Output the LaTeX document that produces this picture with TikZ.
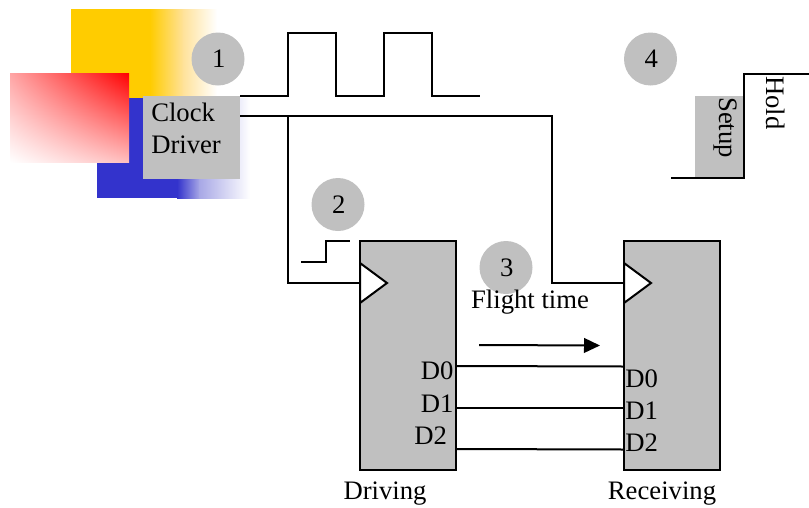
\documentclass[tikz,border=0pt]{standalone}
\usepackage{fontspec}
\setmainfont{Liberation Serif}
\usetikzlibrary{arrows.meta,shadings}
\definecolor{boxgray}{HTML}{C0C0C0}
\definecolor{dkyellow}{HTML}{FFCC00}
\definecolor{dkblue}{HTML}{3333CC}
\definecolor{midyellow}{HTML}{FFE29A}
\definecolor{midblue}{HTML}{A8A8E6}
\definecolor{pinkul}{HTML}{FFA5A5}
\definecolor{pinklr}{HTML}{FFBEBE}
\tikzset{
  wire/.style={draw=black,line width=1.5pt},
  thinwire/.style={draw=black,line width=1.1pt},
  chip/.style={draw=black,line width=1.5pt,fill=boxgray,inner sep=0pt,outer sep=0pt,minimum width=72pt,minimum height=171.75pt,anchor=north west},
  badge/.style={circle,fill=boxgray,minimum size=39.75pt,inner sep=0pt},
  txt/.style={font=\fontsize{20}{24}\selectfont,inner sep=0pt,text=black},
  clkmark/.style={draw=black,line width=1.5pt,fill=white,line join=miter}
}
\begin{document}
\begin{tikzpicture}[x=0.75pt,y=-0.75pt]
\useasboundingbox (0,0) rectangle (809,507);
% decoration
\fill[dkyellow] (71,9) rectangle (150.5,98);
\begin{scope}
\clip (150,9) rectangle (217,98);
\shade[left color=dkyellow,right color=midyellow] (150,0) rectangle (183.5,110);
\shade[left color=midyellow,right color=white] (183,0) rectangle (217,110);
\end{scope}
\fill[dkblue] (97,98) rectangle (177.5,198);
\begin{scope}
\clip (177,98) rectangle (250,198);
\shade[left color=dkblue,right color=midblue] (177,90) rectangle (200,206);
\shade[left color=midblue,right color=white] (199.5,90) rectangle (250,206);
\end{scope}
\shade[upper right=red,upper left=pinkul,lower right=pinklr,lower left=white] (10,73) rectangle (129,162);
% clock driver
\node[fill=boxgray,inner sep=0pt,outer sep=0pt,minimum width=72.75pt,minimum height=62.25pt,anchor=north west] (clk) at (143,96) {};
\node[txt,anchor=base west] (clktxt) at (151,121) {Clock};
\node[txt,anchor=base west] (drvtxt) at (151,153) {Driver};
% chips
\node[chip] (drv) at (360,241) {};
\node[chip] (rcv) at (624,241) {};
% coordinates
\coordinate (wave0) at (240,96);
\coordinate (wave1) at (480,96);
\coordinate (clkout) at (240,116);
\coordinate (branch) at (288,116);
\coordinate (drvclk) at (360,283);
\coordinate (rcvclk) at (624,283);
\coordinate (corner) at (552,116);
% waveform
\draw[thinwire,line join=miter] (wave0) -- (288,96) -- (288,33) -- (336,33) -- (336,96) -- (384,96) -- (384,33) -- (432,33) -- (432,96) -- (wave1);
% clock tree
\draw[wire,line join=miter] (clkout) -- (corner) -- (552,283) -- (rcvclk);
\draw[wire,line join=miter] (branch) -- (288,283) -- (drvclk);
% step
\coordinate (st0) at (301,262);
\coordinate (st1) at (350,241);
\draw[thinwire] (st0) -- (326,262) -- (326,241) -- (st1);
% clock marks
\draw[clkmark] (360,263) -- (387,283) -- (360,303) -- cycle;
\draw[clkmark] (624,263) -- (651,283) -- (624,303) -- cycle;
% data
\coordinate (a0) at (456,366); \coordinate (b0) at (624,366.5);
\coordinate (a1) at (456,407.5); \coordinate (b1) at (624,407.5);
\coordinate (a2) at (456,449); \coordinate (b2) at (624,449.5);
\draw[wire] (a0) -- (b0);
\draw[wire] (a1) -- (b1);
\draw[wire] (a2) -- (b2);
\node[txt,anchor=base west] (d0l) at (420.5,379) {D0};
\node[txt,anchor=base west] (d1l) at (420.5,412) {D1};
\node[txt,anchor=base west] (d2l) at (414,444) {D2};
\node[txt,anchor=base west] (d0r) at (625,387) {D0};
\node[txt,anchor=base west] (d1r) at (625,419) {D1};
\node[txt,anchor=base west] (d2r) at (625,451) {D2};
\node[txt,anchor=base] (dlab) at (385,499) {Driving};
\node[txt,anchor=base] (rlab) at (662,499) {Receiving};
% setup / hold
\node[fill=boxgray,inner sep=0pt,outer sep=0pt,minimum width=36.75pt,minimum height=62.25pt,anchor=north west] (setup) at (695,96) {};
\coordinate (sh0) at (671,178);
\coordinate (sh1) at (809,74);
\draw[wire,line join=miter] (sh0) -- (744,178) -- (744,74) -- (sh1);
\node[txt,rotate=-90,anchor=base west] (setuptxt) at (719,97) {Setup};
\node[txt,rotate=-90,anchor=base west] (holdtxt) at (766,76) {Hold};
% badges
\node[badge] (n1) at (218,59) {}; \node[txt] at (218.7,59) {1};
\node[badge] (n4) at (650.5,59) {}; \node[txt] at (651.2,59) {4};
\node[badge] (n2) at (338,204.5) {}; \node[txt] at (338.7,204.5) {2};
\node[badge] (n3) at (506,267.5) {}; \node[txt] at (506.7,267.5) {3};
% flight time
\node[txt,anchor=base] (ft) at (530,308) {Flight time};
\coordinate (ar0) at (479,345);
\coordinate (ar1) at (600,345.5);
\draw[wire,-{Triangle[length=12pt,width=11pt]}] (ar0) -- (ar1);
\end{tikzpicture}
\end{document}
